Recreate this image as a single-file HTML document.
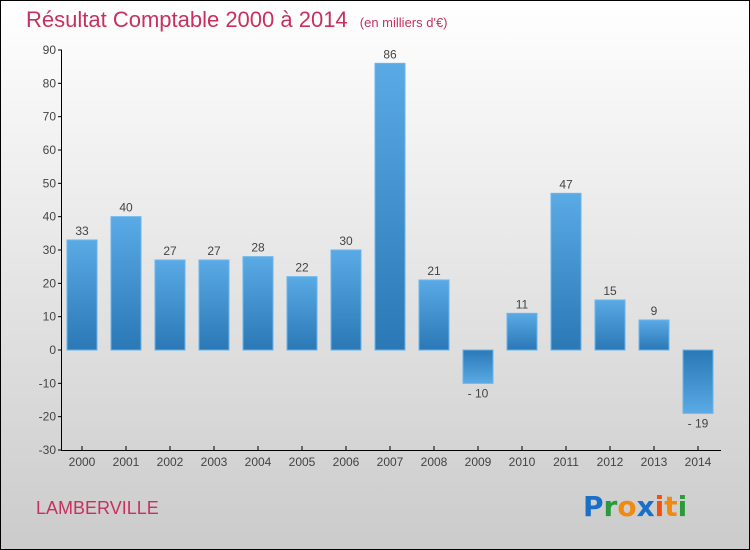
<!DOCTYPE html>
<html><head><meta charset="utf-8"><style>
body{margin:0}
#wrap{width:750px;height:550px;position:relative;overflow:hidden;font-family:"Liberation Sans",sans-serif}
</style></head><body>
<div id="wrap">
<svg id="chart" width="750" height="550" xmlns="http://www.w3.org/2000/svg">
<defs>
<linearGradient id="bg" x1="0" y1="0" x2="0" y2="1"><stop offset="0" stop-color="#ffffff"/><stop offset="1" stop-color="#cbcbcb"/></linearGradient>
<linearGradient id="pos" x1="0" y1="0" x2="0" y2="1"><stop offset="0" stop-color="#5aaae6"/><stop offset="1" stop-color="#2a78b5"/></linearGradient>
<linearGradient id="neg" x1="0" y1="0" x2="0" y2="1"><stop offset="0" stop-color="#2a78b5"/><stop offset="1" stop-color="#5aaae6"/></linearGradient>
</defs>
<rect x="0.5" y="0.5" width="749" height="549" fill="url(#bg)" stroke="#000"/>
<text x="26" y="27" font-size="22" fill="#c8305f">Résultat Comptable 2000 à 2014 <tspan font-size="13" dx="6">(en milliers d'€)</tspan></text>
<g id="grid"></g>
<g id="bars"></g>
<g id="axes"></g>
<text x="36" y="514" font-size="18" fill="#c8305f">LAMBERVILLE</text>
<g font-size="28" font-family="DejaVu Sans, sans-serif" font-weight="bold">
<text x="583" y="516"><tspan fill="#1a6fc6">P</tspan><tspan fill="#2a9a3a">r</tspan><tspan fill="#f08a10">o</tspan><tspan fill="#1a6fc6">x</tspan><tspan fill="#f05010">i</tspan><tspan fill="#f08a10">t</tspan><tspan fill="#2a9a3a">i</tspan></text>
</g>
</svg>
</div>
<script>
const categories=["2000","2001","2002","2003","2004","2005","2006","2007","2008","2009","2010","2011","2012","2013","2014"];
const values=[33,40,27,27,28,22,30,86,21,-10,11,47,15,9,-19];
const yTicks=[90,80,70,60,50,40,30,20,10,0,-10,-20,-30];
const NS="http://www.w3.org/2000/svg";
function y(v){return 350-v*(100/30);}
function x(i){return 82+i*44;}
function mk(tag,attrs,parent,txt){const e=document.createElementNS(NS,tag);for(const k in attrs)e.setAttribute(k,attrs[k]);if(txt!==undefined)e.textContent=txt;parent.appendChild(e);return e;}
const bars=document.getElementById('bars'),axes=document.getElementById('axes');
values.forEach((v,i)=>{
 const top=Math.min(y(v),y(0)),h=Math.abs(y(v)-y(0));
 const r=mk('rect',{x:x(i)-15,y:top,width:30,height:h,fill:v>=0?'url(#pos)':'url(#neg)',stroke:'#6ab4ec','stroke-width':1},bars);
 
 
 const t=mk('text',{x:x(i),y:v>=0?y(v)-5:y(v)+14,'font-size':12,fill:'#444','text-anchor':'middle'},bars,v<0?'- '+Math.abs(v):String(v));
 
 
 const xt=mk('text',{x:x(i),y:466,'font-size':12,fill:'#444','text-anchor':'middle'},axes,categories[i]);
 
 
 const tk=mk('line',{x1:x(i),x2:x(i),y1:446,y2:450,stroke:'#000'},axes);
 
 
});
yTicks.forEach(v=>{
 const l=mk('line',{x1:58,x2:62,y1:y(v),y2:y(v),stroke:'#000'},axes);
 
 
 const t=mk('text',{x:56,y:y(v)+4,'font-size':12,fill:'#444','text-anchor':'end'},axes,v<0?'-'+Math.abs(v):String(v));
 
 
});
const ya=mk('line',{x1:61.5,x2:61.5,y1:y(90),y2:450,stroke:'#000'},axes);


const xa=mk('line',{x1:61,x2:721,y1:450.5,y2:450.5,stroke:'#000'},axes);


</script>
</body></html>
